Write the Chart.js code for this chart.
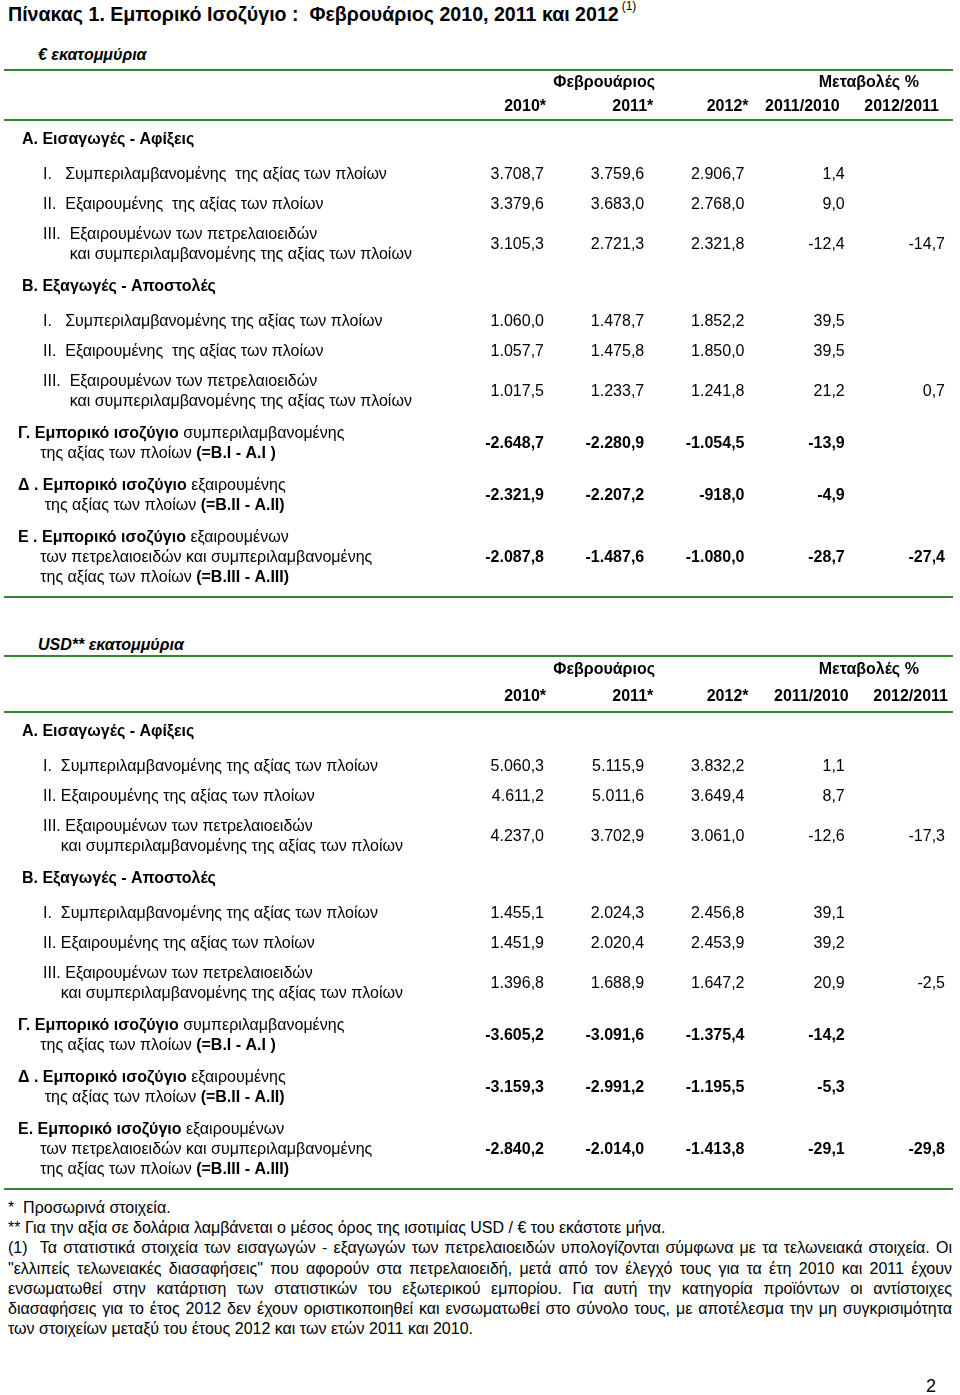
<!DOCTYPE html>
<html lang="el">
<head>
<meta charset="utf-8">
<title>Πίνακας 1. Εμπορικό Ισοζύγιο</title>
<script src="https://cdn.jsdelivr.net/npm/chart.js@4.4.1/dist/chart.umd.min.js"></script>
<style>
  html, body { margin: 0; padding: 0; background: #fff; }
  body {
    width: 960px; height: 1395px; position: relative; overflow: hidden;
    font-family: "Liberation Sans", Arial, Helvetica, sans-serif; color: #000;
  }
  .title { position: absolute; left: 8px; top: -3px; font-size: 19.6px; font-weight: bold; line-height: 24px; white-space: nowrap; }
  .title sup { font-size: 12px; font-weight: normal; position: relative; top: -3px; margin-left: 3px; }
  .unit { position: absolute; left: 38px; font-size: 16px; font-weight: bold; font-style: italic; line-height: 20px; white-space: nowrap; }
  .wrap { position: absolute; left: 0; width: 960px; }
  .notes { position: absolute; left: 8px; top: 1198px; width: 944px; font-size: 16px; line-height: 20.2px; }
  .notes .j { text-align: justify; text-align-last: justify; }
  .page { position: absolute; left: 926px; top: 1375px; font-size: 18px; line-height: 22px; }
</style>
</head>
<body>

<div class="title">Πίνακας 1. Εμπορικό Ισοζύγιο :&nbsp; Φεβρουάριος 2010, 2011 και 2012<sup>(1)</sup></div>
<div class="unit" style="top:45px">€ εκατομμύρια</div>
<div class="wrap" style="top:60px;height:545px"><canvas id="eur" width="960" height="545"></canvas></div>
<div class="unit" style="top:635px">USD** εκατομμύρια</div>
<div class="wrap" style="top:648px;height:550px"><canvas id="usd" width="960" height="550"></canvas></div>

<div class="notes">
  <div>*&nbsp; Προσωρινά στοιχεία.</div>
  <div>** Για την αξία σε δολάρια λαμβάνεται ο μέσος όρος της ισοτιμίας USD / € του εκάστοτε μήνα.</div>
  <div class="j">(1)&nbsp; Τα στατιστικά στοιχεία των εισαγωγών - εξαγωγών των πετρελαιοειδών υπολογίζονται σύμφωνα με τα τελωνειακά στοιχεία. Οι</div>
  <div class="j">"ελλιπείς τελωνειακές διασαφήσεις" που αφορούν στα πετρελαιοειδή, μετά από τον έλεγχό τους για τα έτη 2010 και 2011 έχουν</div>
  <div class="j">ενσωματωθεί στην κατάρτιση των στατιστικών του εξωτερικού εμπορίου. Για αυτή την κατηγορία προϊόντων οι αντίστοιχες</div>
  <div class="j">διασαφήσεις για το έτος 2012 δεν έχουν οριστικοποιηθεί και ενσωματωθεί στο σύνολο τους, με αποτέλεσμα την μη συγκρισιμότητα</div>
  <div>των στοιχείων μεταξύ του έτους 2012 και των ετών 2011 και 2010.</div>
</div>
<div class="page">2</div>

<script>
// column headers
const groupHeads = ["Φεβρουάριος", "Μεταβολές %"];
const colHeads = ["2010*", "2011*", "2012*", "2011/2010", "2012/2011"];

// row type: section heading, item, trade balance
const rowKinds = ["head", "item", "item", "item", "head", "item", "item", "item", "total", "total", "total"];

const labelsEur = [
  ["Α. Εισαγωγές - Αφίξεις"],
  ["I.   Συμπεριλαμβανομένης  της αξίας των πλοίων"],
  ["II.  Εξαιρουμένης  της αξίας των πλοίων"],
  ["III.  Εξαιρουμένων των πετρελαιοειδών", "      και συμπεριλαμβανομένης της αξίας των πλοίων"],
  ["Β. Εξαγωγές - Αποστολές"],
  ["I.   Συμπεριλαμβανομένης της αξίας των πλοίων"],
  ["II.  Εξαιρουμένης  της αξίας των πλοίων"],
  ["III.  Εξαιρουμένων των πετρελαιοειδών", "      και συμπεριλαμβανομένης της αξίας των πλοίων"],
  ["**Γ. Εμπορικό ισοζύγιο** συμπεριλαμβανομένης", "     της αξίας των πλοίων **(=Β.I - Α.I )**"],
  ["**Δ . Εμπορικό ισοζύγιο** εξαιρουμένης", "      της αξίας των πλοίων **(=Β.II - Α.II)**"],
  ["**Ε . Εμπορικό ισοζύγιο** εξαιρουμένων", "     των πετρελαιοειδών και συμπεριλαμβανομένης", "     της αξίας των πλοίων **(=Β.III - Α.III)**"]
];

const labelsUsd = [
  ["Α. Εισαγωγές - Αφίξεις"],
  ["I.  Συμπεριλαμβανομένης της αξίας των πλοίων"],
  ["II. Εξαιρουμένης της αξίας των πλοίων"],
  ["III. Εξαιρουμένων των πετρελαιοειδών", "    και συμπεριλαμβανομένης της αξίας των πλοίων"],
  ["Β. Εξαγωγές - Αποστολές"],
  ["I.  Συμπεριλαμβανομένης της αξίας των πλοίων"],
  ["II. Εξαιρουμένης της αξίας των πλοίων"],
  ["III. Εξαιρουμένων των πετρελαιοειδών", "    και συμπεριλαμβανομένης της αξίας των πλοίων"],
  ["**Γ. Εμπορικό ισοζύγιο** συμπεριλαμβανομένης", "     της αξίας των πλοίων **(=Β.I - Α.I )**"],
  ["**Δ . Εμπορικό ισοζύγιο** εξαιρουμένης", "      της αξίας των πλοίων **(=Β.II - Α.II)**"],
  ["**Ε. Εμπορικό ισοζύγιο** εξαιρουμένων", "     των πετρελαιοειδών και συμπεριλαμβανομένης", "     της αξίας των πλοίων **(=Β.III - Α.III)**"]
];

// € millions
const eur2010 = [null, 3708.7, 3379.6, 3105.3, null, 1060.0, 1057.7, 1017.5, -2648.7, -2321.9, -2087.8];
const eur2011 = [null, 3759.6, 3683.0, 2721.3, null, 1478.7, 1475.8, 1233.7, -2280.9, -2207.2, -1487.6];
const eur2012 = [null, 2906.7, 2768.0, 2321.8, null, 1852.2, 1850.0, 1241.8, -1054.5, -918.0, -1080.0];
const eurCh1110 = [null, 1.4, 9.0, -12.4, null, 39.5, 39.5, 21.2, -13.9, -4.9, -28.7];
const eurCh1211 = [null, null, null, -14.7, null, null, null, 0.7, null, null, -27.4];

// USD millions
const usd2010 = [null, 5060.3, 4611.2, 4237.0, null, 1455.1, 1451.9, 1396.8, -3605.2, -3159.3, -2840.2];
const usd2011 = [null, 5115.9, 5011.6, 3702.9, null, 2024.3, 2020.4, 1688.9, -3091.6, -2991.2, -2014.0];
const usd2012 = [null, 3832.2, 3649.4, 3061.0, null, 2456.8, 2453.9, 1647.2, -1375.4, -1195.5, -1413.8];
const usdCh1110 = [null, 1.1, 8.7, -12.6, null, 39.1, 39.2, 20.9, -14.2, -5.3, -29.1];
const usdCh1211 = [null, null, null, -17.3, null, null, null, -2.5, null, null, -29.8];

const FONT = '"Liberation Sans", Arial, Helvetica, sans-serif';
const RULE = "#2f862f";
const LINE = 20;

function font(bold) {
  return (bold ? "bold " : "") + "16px " + FONT;
}

// 1234.5 -> 1.234,5
function fmt(v) {
  const parts = Math.abs(v).toFixed(1).split(".");
  const int = parts[0].replace(/\B(?=(\d{3})+(?!\d))/g, ".");
  return (v < 0 ? "-" : "") + int + "," + parts[1];
}

function layoutRows(labels, first) {
  let pos = first;
  const mids = [], firsts = [];
  labels.forEach((lines, i) => {
    const n = lines.length;
    firsts.push(pos);
    mids.push(pos + (n - 1) * LINE / 2);
    pos += n * LINE + (rowKinds[i] === "head" ? 15 : n > 1 ? 12 : 10);
  });
  const last = labels.length - 1;
  return { firsts, mids, bottom: firsts[last] + (labels[last].length - 1) * LINE + 19 };
}

function drawRich(ctx, line, x, y) {
  const lead = line.match(/^ */)[0].length;
  ctx.font = font(false);
  let cx = x + lead * ctx.measureText(" ").width;
  line.slice(lead).split("**").forEach((seg, k) => {
    ctx.font = font(k % 2 === 1);
    ctx.fillText(seg, cx, y);
    cx += ctx.measureText(seg).width;
  });
}

const tablePlugin = {
  id: "tableText",
  afterDraw(chart, args, opts) {
    const ctx = chart.ctx;
    const xs = chart.scales.x, ys = chart.scales.y;
    const st = opts.style, rows = opts.rows;
    ctx.save();
    ctx.textBaseline = "middle";
    ctx.fillStyle = "#000";

    // green rules
    ctx.strokeStyle = RULE;
    ctx.lineWidth = 2;
    [st.topRule, st.headRule, rows.bottom].forEach(v => {
      const py = Math.round(ys.getPixelForValue(v));
      ctx.beginPath();
      ctx.moveTo(4, py);
      ctx.lineTo(953, py);
      ctx.stroke();
    });

    // column headers
    ctx.font = font(true);
    ctx.textAlign = "center";
    groupHeads.forEach((g, i) => ctx.fillText(g, xs.getPixelForValue(st.groupAt[i]), ys.getPixelForValue(st.groupY)));
    ctx.textAlign = "right";
    colHeads.forEach((h, i) => ctx.fillText(h, xs.getPixelForValue(i) + st.headShift[i], ys.getPixelForValue(st.headY)));

    // row labels
    ctx.textAlign = "left";
    opts.labels.forEach((lines, i) => {
      const kind = rowKinds[i];
      const lx = kind === "head" ? 22 : kind === "item" ? 43 : 18;
      lines.forEach((ln, j) => {
        const py = ys.getPixelForValue(rows.firsts[i] + j * LINE);
        if (kind === "head") {
          ctx.font = font(true);
          ctx.fillText(ln, lx, py);
        } else {
          drawRich(ctx, ln, lx, py);
        }
      });
    });

    // values, one dataset per column
    ctx.textAlign = "right";
    chart.data.datasets.forEach((ds, di) => {
      chart.getDatasetMeta(di).data.forEach((el, i) => {
        const v = ds.data[i].v;
        if (v === null) return;
        ctx.font = font(rowKinds[i] === "total");
        ctx.fillText(fmt(v), el.x, el.y);
      });
    });
    ctx.restore();
  }
};

function makeTable(id, labels, columns, style) {
  const canvas = document.getElementById(id);
  const rows = layoutRows(labels, style.firstRow);
  new Chart(canvas, {
    type: "scatter",
    data: {
      datasets: columns.map((vals, c) => ({
        label: colHeads[c],
        data: vals.map((v, i) => ({ x: c, y: rows.mids[i], v: v })),
        pointRadius: 0,
        pointHoverRadius: 0
      }))
    },
    options: {
      responsive: false,
      animation: false,
      events: [],
      layout: { padding: { left: 544, right: 15, top: 0, bottom: 0 } },
      scales: {
        x: { type: "linear", min: 0, max: 4, display: false },
        y: { type: "linear", min: 0, max: canvas.height, reverse: true, display: false }
      },
      plugins: {
        legend: { display: false },
        tooltip: { enabled: false },
        tableText: { style: style, rows: rows, labels: labels }
      }
    },
    plugins: [tablePlugin]
  });
}

makeTable("eur", labelsEur, [eur2010, eur2011, eur2012, eurCh1110, eurCh1211], {
  topRule: 10, groupY: 23, headY: 47, headRule: 60, firstRow: 80,
  groupAt: [0.6, 3.24], headShift: [2, 9, 4, -5, -6]
});

makeTable("usd", labelsUsd, [usd2010, usd2011, usd2012, usdCh1110, usdCh1211], {
  topRule: 8, groupY: 22, headY: 49, headRule: 64, firstRow: 84,
  groupAt: [0.6, 3.24], headShift: [2, 9, 4, 4, 3]
});
</script>
</body>
</html>
